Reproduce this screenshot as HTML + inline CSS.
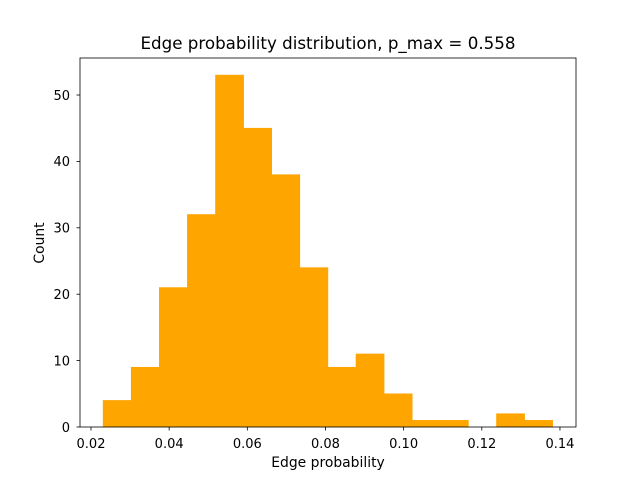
<!DOCTYPE html>
<html><head><meta charset="utf-8"><style>
body{margin:0;background:#fff;font-family:"Liberation Sans","DejaVu Sans",sans-serif}
svg text{font-family:"DejaVu Sans","Liberation Sans",sans-serif}
</style></head><body>
<svg id="chart" width="640" height="480" viewBox="0 0 640 480">
<rect width="640" height="480" fill="#fff"/>
<text x="328" y="49" text-anchor="middle" font-size="16.7">Edge probability distribution, p_max = 0.558</text>
<g id="bars"></g>
<g id="axes"></g>
<text x="328" y="467" text-anchor="middle" font-size="13.9">Edge probability</text>
<text transform="translate(44,243) rotate(-90)" text-anchor="middle" font-size="13.9">Count</text>
</svg>
<script>
const binStart = 0.0231;
const binWidth = 0.00719;
const counts = [4,9,21,32,53,45,38,24,9,11,5,1,1,0,2,1];
const xTicks = [0.02,0.04,0.06,0.08,0.10,0.12,0.14];
const xTickLabels = ["0.02","0.04","0.06","0.08","0.10","0.12","0.14"];
const yTicks = [0,10,20,30,40,50];

const L=80,R=576,T=58,B=427;
function xs(v){return 91+(v-0.02)*3908;}
function ys(v){return B-v*6.64;}
const NS="http://www.w3.org/2000/svg";
const bars=document.getElementById('bars'), axes=document.getElementById('axes');
function mk(tag,attrs,parent){const e=document.createElementNS(NS,tag);for(const k in attrs)e.setAttribute(k,attrs[k]);parent.appendChild(e);return e;}
counts.forEach((c,i)=>{
  if(c<=0) return;
  const x0=xs(binStart+i*binWidth), x1=xs(binStart+(i+1)*binWidth);
  const r=mk('rect',{x:x0,y:ys(c),width:x1-x0,height:B-ys(c),fill:'#ffa500',stroke:'#ffa500','stroke-width':0.6},bars);
  
  
});
const frame=mk('rect',{x:L,y:T,width:R-L,height:B-T,fill:'none',stroke:'#000','stroke-width':0.8},axes);


xTicks.forEach((v,i)=>{
  const x=xs(v);
  mk('line',{x1:x,x2:x,y1:B,y2:B+3.5,stroke:'#000','stroke-width':0.8},axes);
  const t=mk('text',{x:x,y:B+21,'text-anchor':'middle','font-size':13},axes);
  t.textContent=xTickLabels[i];
  
  
});
yTicks.forEach(v=>{
  const y=ys(v);
  mk('line',{x1:L,x2:L-3.5,y1:y,y2:y,stroke:'#000','stroke-width':0.8},axes);
  const t=mk('text',{x:L-10,y:y+4.8,'text-anchor':'end','font-size':13},axes);
  t.textContent=v;
  
  
});
</script>
</body></html>
